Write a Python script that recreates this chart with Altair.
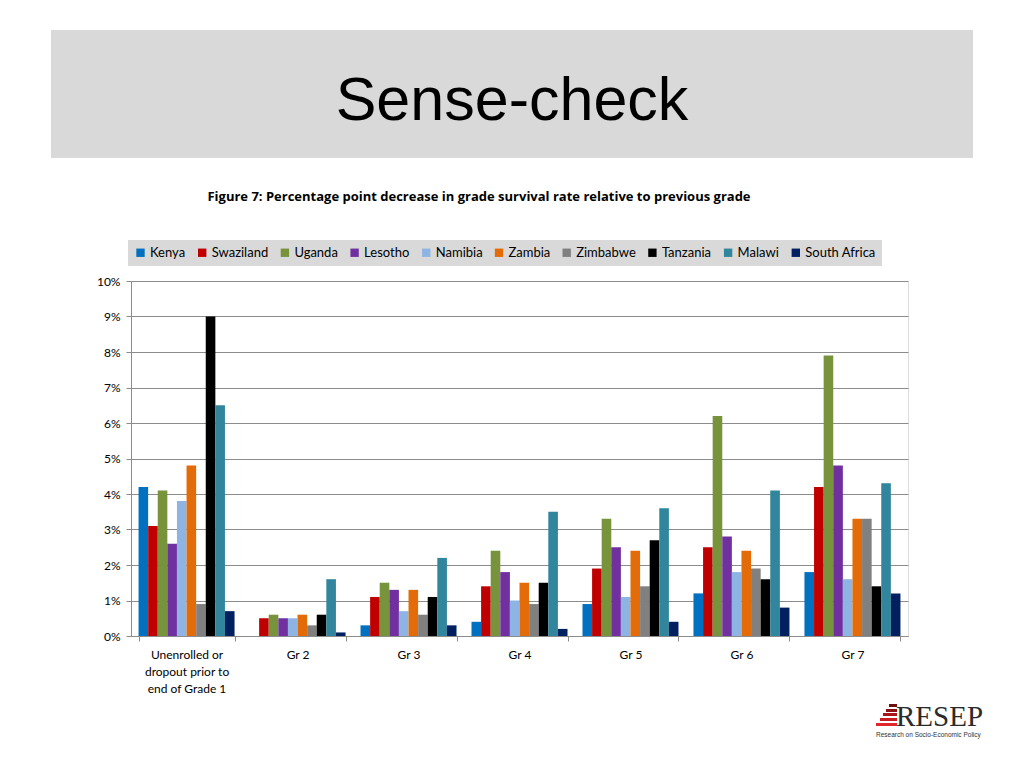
import altair as alt
import pandas as pd

grades = ["Unenrolled or dropout prior to end of Grade 1", "Gr 2", "Gr 3", "Gr 4", "Gr 5", "Gr 6", "Gr 7"]
countries = ["Kenya", "Swaziland", "Uganda", "Lesotho", "Namibia", "Zambia",
             "Zimbabwe", "Tanzania", "Malawi", "South Africa"]
colors = ["#0070c0", "#c00000", "#77933c", "#7030a0", "#8db4e2", "#e36c09",
          "#808080", "#000000", "#31859c", "#002060"]

kenya        = [4.2, 0.0, 0.3, 0.4, 0.9, 1.2, 1.8]
swaziland    = [3.1, 0.5, 1.1, 1.4, 1.9, 2.5, 4.2]
uganda       = [4.1, 0.6, 1.5, 2.4, 3.3, 6.2, 7.9]
lesotho      = [2.6, 0.5, 1.3, 1.8, 2.5, 2.8, 4.8]
namibia      = [3.8, 0.5, 0.7, 1.0, 1.1, 1.8, 1.6]
zambia       = [4.8, 0.6, 1.3, 1.5, 2.4, 2.4, 3.3]
zimbabwe     = [0.9, 0.3, 0.6, 0.9, 1.4, 1.9, 3.3]
tanzania     = [9.0, 0.6, 1.1, 1.5, 2.7, 1.6, 1.4]
malawi       = [6.5, 1.6, 2.2, 3.5, 3.6, 4.1, 4.3]
south_africa = [0.7, 0.1, 0.3, 0.2, 0.4, 0.8, 1.2]

series = [kenya, swaziland, uganda, lesotho, namibia, zambia,
          zimbabwe, tanzania, malawi, south_africa]

rows = []
for c, vals in zip(countries, series):
    for g, v in zip(grades, vals):
        rows.append({"grade": g, "country": c, "value": v})
df = pd.DataFrame(rows)

W, H = 777, 355

label_expr = ("datum.label == 'Unenrolled or dropout prior to end of Grade 1' ? "
              "['Unenrolled or', 'dropout prior to', 'end of Grade 1'] : datum.label")

bars = alt.Chart(df).mark_bar().encode(
    x=alt.X("grade:N", sort=grades, title=None,
            scale=alt.Scale(paddingInner=0.135, paddingOuter=0.068),
            axis=alt.Axis(labelExpr=label_expr, labelAngle=0, labelFont="Lato",
                          labelFontSize=12, labelColor="#000000", labelPadding=8,
                          tickBand="extent", tickColor="#8c8c8c", tickSize=5,
                          domainColor="#8c8c8c", labelLineHeight=17,
                          labelBaseline="top")),
    xOffset=alt.XOffset("country:N", sort=countries,
                        scale=alt.Scale(paddingInner=0, paddingOuter=0)),
    y=alt.Y("value:Q", title=None,
            scale=alt.Scale(domain=[0, 10], nice=False),
            axis=alt.Axis(values=list(range(0, 11)), labelExpr="datum.value + '%'",
                          labelFont="Lato", labelFontSize=12, labelColor="#000000",
                          gridColor="#8c8c8c", gridWidth=1, tickColor="#8c8c8c",
                          tickSize=5, labelPadding=6, domainColor="#8c8c8c")),
    color=alt.Color("country:N", sort=countries,
                    scale=alt.Scale(domain=countries, range=colors),
                    legend=alt.Legend(title=None, orient="none", legendX=-3, legendY=-41,
                                      direction="horizontal", columns=10,
                                      symbolType="square", symbolSize=70,
                                      symbolStrokeWidth=0, labelFont="Lato",
                                      labelFontSize=13, labelColor="#000000",
                                      columnPadding=9.7, labelOffset=3,
                                      fillColor="#d9d9d9", padding=6)),
)

one = alt.Data(values=[{}])

title_box = alt.Chart(one).mark_rect(color="#d9d9d9").encode(
    x=alt.value(-80), x2=alt.value(842), y=alt.value(-251), y2=alt.value(-123))

title_text = alt.Chart(one).mark_text(
    text="Sense-check", font="Liberation Sans", fontSize=61, color="#000000",
    align="center", baseline="alphabetic").encode(x=alt.value(381), y=alt.value(-161))

fig_title = alt.Chart(one).mark_text(
    text="Figure 7: Percentage point decrease in grade survival rate relative to previous grade",
    font="Open Sans", fontSize=13, fontWeight="bold", color="#000000",
    align="center", baseline="alphabetic").encode(x=alt.value(348), y=alt.value(-80))

# logo (decoration)
stair_colors = ["#6e0f12", "#8a1216", "#a8161b", "#c81c22", "#e0282c"]
stair_x = [758, 755, 752, 749, 745]
stair_y = [423, 428, 432, 437, 442]
steps = []
for sx, sy, sc in zip(stair_x, stair_y, stair_colors):
    steps.append(alt.Chart(one).mark_rect(color=sc).encode(
        x=alt.value(sx), x2=alt.value(766), y=alt.value(sy), y2=alt.value(sy + 3)))

logo_text = alt.Chart(one).mark_text(
    text="RESEP", font="Liberation Serif", fontSize=29, color="#2b2b2b",
    align="left", baseline="alphabetic").encode(x=alt.value(765), y=alt.value(445))

logo_sub = alt.Chart(one).mark_text(
    text="Research on Socio-Economic Policy", font="Liberation Sans", fontSize=6.5,
    color="#333333", align="left", baseline="alphabetic").encode(x=alt.value(745), y=alt.value(456))

chart = alt.layer(title_box, title_text, fig_title, bars, *steps, logo_text, logo_sub).properties(
    width=W, height=H,
    autosize=alt.AutoSizeParams(type="none"),
    padding={"left": 123, "top": 273, "right": 106, "bottom": 122},
).configure_view(fill="#d9d9d9", stroke="#8c8c8c").configure(background="#ffffff")

chart.save("out.html", embed_options={"renderer": "svg", "actions": False})
